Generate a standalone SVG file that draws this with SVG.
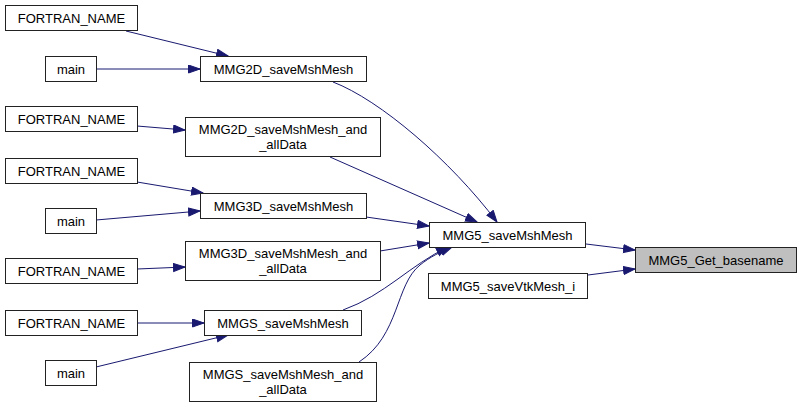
<svg xmlns="http://www.w3.org/2000/svg" width="801" height="407" viewBox="0 0 801 407">
<style>
.n rect{fill:#fff;stroke:#222;stroke-width:1}
.n text{font-family:"Liberation Sans",Arial,sans-serif;font-size:13px;fill:#000;text-anchor:middle}
.e path{fill:none;stroke:#191970;stroke-width:1;marker-end:url(#ah)}
</style>
<defs>
<marker id="ah" markerUnits="userSpaceOnUse" markerWidth="14" markerHeight="10" refX="12" refY="4.5" orient="auto">
<path d="M0.5,0.5 L12,4.5 L0.5,8.5 z" fill="#191970" stroke="#191970" stroke-width="1"/>
</marker>
</defs>
<rect width="801" height="407" fill="#fff"/>
<g id="edges" class="e">
<path d="M126,31 L228,56"/>
<path d="M96,69 L200,69"/>
<path d="M137,126 L185,130"/>
<path d="M333,82 C380,100 450,160 497,222"/>
<path d="M330,157 L477,222"/>
<path d="M137,182 L203,193"/>
<path d="M96,220 L200,211"/>
<path d="M366,217 L429,226"/>
<path d="M380,251 L429,243"/>
<path d="M137,269 L185,267"/>
<path d="M137,323 L204,323"/>
<path d="M96,367 L228,335"/>
<path d="M343,310 C385,295 410,265 448,247"/>
<path d="M359,362 C400,335 395,285 420,265 C430,257 440,252 452,247"/>
<path d="M586,244 L635,250"/>
<path d="M588,275 L635,269"/>
</g>
<g id="fn1" class="n"><rect x="5.5" y="5.5" width="132" height="25"/><text x="71.5" y="22.5">FORTRAN_NAME</text></g>
<g id="main1" class="n"><rect x="45.5" y="56.5" width="51" height="25"/><text x="71" y="73.5">main</text></g>
<g id="mmg2d" class="n"><rect x="200.5" y="56.5" width="166" height="25"/><text x="283.5" y="73.5">MMG2D_saveMshMesh</text></g>
<g id="fn2" class="n"><rect x="5.5" y="106.5" width="132" height="25"/><text x="71.5" y="123.5">FORTRAN_NAME</text></g>
<g id="mmg2d_all" class="n"><rect x="185.5" y="117.5" width="195" height="39"/><text x="283" y="134">MMG2D_saveMshMesh_and</text><text x="283" y="149">_allData</text></g>
<g id="fn3" class="n"><rect x="5.5" y="158.5" width="132" height="25"/><text x="71.5" y="175.5">FORTRAN_NAME</text></g>
<g id="main2" class="n"><rect x="45.5" y="208.5" width="51" height="25"/><text x="71" y="225.5">main</text></g>
<g id="mmg3d" class="n"><rect x="200.5" y="193.5" width="166" height="25"/><text x="283.5" y="210.5">MMG3D_saveMshMesh</text></g>
<g id="fn4" class="n"><rect x="5.5" y="258.5" width="132" height="25"/><text x="71.5" y="275.5">FORTRAN_NAME</text></g>
<g id="mmg3d_all" class="n"><rect x="185.5" y="241.5" width="195" height="39"/><text x="283" y="258">MMG3D_saveMshMesh_and</text><text x="283" y="273">_allData</text></g>
<g id="fn5" class="n"><rect x="5.5" y="310.5" width="132" height="25"/><text x="71.5" y="327.5">FORTRAN_NAME</text></g>
<g id="mmgs" class="n"><rect x="204.5" y="310.5" width="157" height="25"/><text x="283" y="327.5">MMGS_saveMshMesh</text></g>
<g id="main3" class="n"><rect x="45.5" y="360.5" width="51" height="25"/><text x="71" y="377.5">main</text></g>
<g id="mmgs_all" class="n"><rect x="189.5" y="362.5" width="187" height="39"/><text x="283" y="379">MMGS_saveMshMesh_and</text><text x="283" y="394">_allData</text></g>
<g id="mmg5_msh" class="n"><rect x="429.5" y="222.5" width="156" height="25"/><text x="507.5" y="239.5">MMG5_saveMshMesh</text></g>
<g id="mmg5_vtk" class="n"><rect x="428.5" y="273.5" width="159" height="25"/><text x="508" y="290.5">MMG5_saveVtkMesh_i</text></g>
<g id="mmg5_base" class="n"><rect x="635.5" y="247.5" width="161" height="25" style="fill:#bfbfbf"/><text x="716" y="264.5">MMG5_Get_basename</text></g>
</svg>
